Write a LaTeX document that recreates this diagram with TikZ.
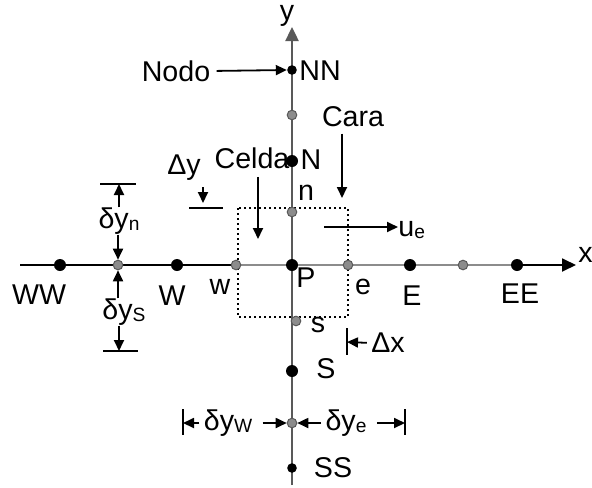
\documentclass[tikz,border=0pt]{standalone}
\usepackage{fontspec}
\setmainfont{Liberation Sans}
\usetikzlibrary{arrows.meta}
\newcommand{\lowsub}[1]{\raisebox{-1pt}{\fontsize{9.6}{10}\selectfont #1}}

\begin{document}
\begin{tikzpicture}[x=0.5pt,y=-0.5pt]
\tikzstyle{every node}+=[inner sep=0pt, font=\fontsize{14.3}{17}\selectfont]
\tikzstyle{nodedot}=[circle, fill=black, minimum size=6pt]
\tikzstyle{smalldot}=[circle, fill=black, minimum size=4.8pt]
\tikzstyle{facedot}=[circle, fill=black!45, draw=black!65, line width=0.5pt, minimum size=4.8pt]
\tikzstyle{arr}=[-{Triangle[length=5.5pt,width=5pt]}, line width=0.9pt]
\tikzstyle{axisarr}=[-{Triangle[length=7pt,width=6.5pt]}, line width=0.9pt]
\tikzstyle{tick}=[line width=0.7pt]
\useasboundingbox (0,0) rectangle (592,487);
\coordinate (xstart) at (20,265);
\coordinate (xend) at (576,265);
\coordinate (ystart) at (292,485);
\coordinate (yend) at (292,27);
\draw [axisarr, black] (xstart) -- (xend);
\draw [line width=1.3pt, black!45] (236,265) -- (517,265);
\draw [axisarr, black!65, line width=1.2pt] (ystart) -- (yend);
\node [anchor=west] (xlabel) at (578,255) {x};
\node (ylabel) at (287,16) {y};
\draw [line width=1pt, dash pattern=on 1pt off 1.5pt] (238,208) rectangle (348,317);
\node [nodedot] (WW) at (60,265) {};
\node [nodedot] (W) at (177,265) {};
\node [nodedot] (P) at (292,265) {};
\node [nodedot] (E) at (410,265) {};
\node [nodedot] (EE) at (517,265) {};
\node [smalldot] (NN) at (292,70) {};
\node [nodedot] (N) at (292,161) {};
\node [nodedot] (S) at (292,371) {};
\node [smalldot] (SS) at (292,468) {};
\node [facedot] (fww) at (118,265) {};
\node [facedot] (w) at (236,265) {};
\node [facedot] (e) at (348,265) {};
\node [facedot] (fee) at (463,265) {};
\node [facedot] (fnn) at (292,115) {};
\node [facedot] (n) at (292,212) {};
\node [facedot] (s) at (296,321) {};
\node [facedot] (fss) at (292,423) {};
\node (WWlabel) at (39,295) {WW};
\node (Wlabel) at (172,296) {W};
\node (wlabel) at (220,287) {w};
\node (Plabel) at (306,278) {P};
\node (elabel) at (363,287) {e};
\node (Elabel) at (412,296) {E};
\node (EElabel) at (520,294) {EE};
\node (NNlabel) at (320,71) {NN};
\node (Nlabel) at (311,160) {N};
\node (nlabel) at (306,193) {n};
\node (slabel) at (318,325) {s};
\node (Slabel) at (326,369) {S};
\node (SSlabel) at (333,468) {SS};
\node (nodo) at (176,71) {Nodo};
\draw [arr, shorten <=3pt] (nodo.east) -- (NN.west);
\node (cara) at (353,117) {Cara};
\coordinate (caratip) at (342,198);
\draw [arr, shorten <=3pt] (caratip |- cara.south) -- (caratip);
\node (celda) at (252,158) {Celda};
\coordinate (celdatip) at (258,239);
\draw [arr, shorten <=4pt] (celdatip |- celda.south) -- (celdatip);
\node (dylabel) at (184,168) {Δy};
\coordinate (dytip) at (203,203);
\coordinate (dyl) at (189,208);
\coordinate (dyr) at (223,208);
\draw [arr] (203,187) -- (dytip);
\draw [tick] (dyl) -- (dyr);
\node [anchor=west] (ue) at (398,230) {u\lowsub{e}};
\coordinate (uestart) at (324,227);
\draw [arr] (uestart) -- (ue.west |- uestart);
\node (dyn) at (119,221) {δy\lowsub{n}};
\coordinate (dyntop) at (119,184);
\draw [tick] (100,184) -- (136,184);
\draw [arr] (dyn.north -| dyntop) -- (dyntop);
\draw [arr] (dyn.south -| fww) -- (fww.north);
\node (dys) at (124,312) {δy\lowsub{S}};
\coordinate (dysbot) at (119,351);
\draw [arr] (dys.north -| fww) -- (fww.south);
\draw [arr] (dys.south -| dysbot) -- (dysbot);
\draw [tick] (103,351) -- (138,351);
\coordinate (dxtick) at (347,342);
\draw [tick] (347,328) -- (347,355);
\node (dx) at (388,343) {Δx};
\draw [arr, shorten <=2pt] (dx.west) -- (dxtick);
\coordinate (dwtick) at (183,423);
\coordinate (detick) at (405,423);
\draw [tick] (183,409) -- (183,435);
\draw [tick] (405,409) -- (405,435);
\node (dyw) at (228,423) {δy\lowsub{W}};
\node (dye) at (346,423) {δy\lowsub{e}};
\draw [arr, shorten <=2pt] (dyw.west) -- (dwtick);
\draw [arr, shorten <=5pt] (dyw.east) -- (fss.west);
\draw [arr, shorten <=2pt] (dye.west) -- (fss.east);
\draw [arr, shorten <=5pt] (dye.east) -- (detick);
\end{tikzpicture}
\end{document}
